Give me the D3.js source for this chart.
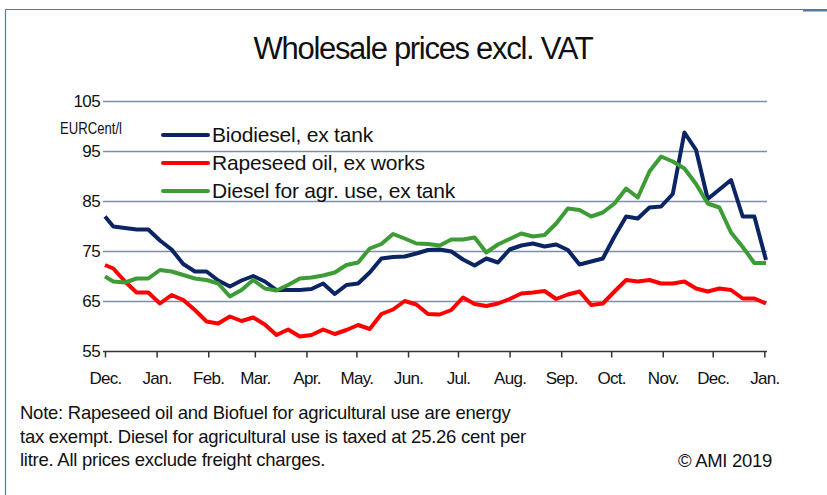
<!DOCTYPE html>
<html>
<head>
<meta charset="utf-8">
<script src="https://cdn.jsdelivr.net/npm/d3@7"></script>
<style>
  body { margin: 0; background: #fff; }
  svg { font-family: "Liberation Sans", Arial, sans-serif; }
</style>
</head>
<body>
<div class="chart"></div>
<script>
var svgWidth = 827;
var svgHeight = 495;

// weekly quotes: first one on 1 Dec 2017, then Wednesdays up to 2 Jan 2019
var dates = [new Date(2017, 11, 1)].concat(
  d3.timeWednesday.range(new Date(2017, 11, 6), new Date(2019, 0, 3)));

var biodiesel = [82, 80, 79.7, 79.4, 79.4, 77.2, 75.4, 72.5, 71, 71,
  69.2, 68, 69.2, 70.1, 69, 67.3, 67.3, 67.3, 67.5, 68.6,
  66.5, 68.3, 68.6, 70.8, 73.6, 73.9, 74, 74.6, 75.3, 75.4,
  75, 73.4, 72.2, 73.6, 72.8, 75.4, 76.2, 76.6, 76, 76.4,
  75.3, 72.4, 73, 73.6, 78, 82, 81.6, 83.8, 84, 86.5,
  98.8, 95.3, 85.5, 87.4, 89.3, 82, 82, 73.3];

var rapeseed = [72.3, 71.6, 69, 66.8, 66.8, 64.6, 66.3, 65.3, 63.3, 61,
  60.6, 62, 61.1, 61.8, 60.4, 58.3, 59.4, 58, 58.3, 59.4,
  58.5, 59.3, 60.3, 59.5, 62.5, 63.4, 65.1, 64.4, 62.5, 62.4,
  63.3, 65.8, 64.5, 64.1, 64.6, 65.5, 66.6, 66.8, 67.1, 65.5,
  66.4, 67, 64.3, 64.6, 67, 69.3, 69, 69.3, 68.6, 68.6,
  69, 67.6, 67, 67.6, 67.3, 65.6, 65.6, 64.6];

var dieselAgr = [70, 69, 68.8, 69.6, 69.6, 71.3, 71, 70.3, 69.6, 69.3,
  68.6, 66, 67.3, 69.3, 67.6, 67.2, 68.3, 69.6, 69.8, 70.2,
  70.8, 72.3, 72.8, 75.6, 76.5, 78.5, 77.6, 76.6, 76.5, 76.2,
  77.4, 77.4, 77.8, 74.8, 76.4, 77.5, 78.6, 78, 78.3, 80.6,
  83.6, 83.3, 82, 82.8, 84.6, 87.6, 85.8, 91, 94, 93,
  91.6, 88.5, 84.6, 83.8, 78.8, 75.9, 72.7, 72.7];

var seriesNames = ["Biodiesel, ex tank", "Rapeseed oil, ex works", "Diesel for agr. use, ex tank"];
var seriesColors = ["#0b2463", "#ff0000", "#3d9c35"];
var monthLabels = ["Dec.", "Jan.", "Feb.", "Mar.", "Apr.", "May.", "Jun.", "Jul.",
  "Aug.", "Sep.", "Oct.", "Nov.", "Dec.", "Jan."];
var yTicks = [55, 65, 75, 85, 95, 105];
var noteLines = [
  "Note: Rapeseed oil and Biofuel for agricultural use are energy",
  "tax exempt. Diesel for agricultural use is taxed at 25.26 cent per",
  "litre. All prices exclude freight charges."
];

var svg = d3.select(".chart")
  .append("svg")
  .attr("width", svgWidth)
  .attr("height", svgHeight);

// frame lines
svg.append("line")
  .attr("x1", 5.5).attr("x2", 827).attr("y1", 9.5).attr("y2", 9.5)
  .attr("stroke", "#5b7896").attr("stroke-width", 1.2);
svg.append("line")
  .attr("x1", 803).attr("x2", 827).attr("y1", 10.5).attr("y2", 10.5)
  .attr("stroke", "#5b7896").attr("stroke-width", 2);
svg.append("line")
  .attr("x1", 5.5).attr("x2", 5.5).attr("y1", 9.5).attr("y2", 495)
  .attr("stroke", "#5b7896").attr("stroke-width", 1.2);

// title
svg.append("text")
  .attr("x", 423)
  .attr("y", 59)
  .attr("text-anchor", "middle")
  .attr("font-size", "31px")
  .attr("letter-spacing", "-1.3px")
  .attr("fill", "#111")
  .text("Wholesale prices excl. VAT");

var x = d3.scaleTime()
  .domain([dates[0], dates[dates.length - 1]])
  .range([105, 766]);

var y = d3.scaleLinear()
  .domain([55, 105])
  .range([351.5, 101.5]);

// gridlines
svg.append("g")
  .selectAll("line")
  .data(yTicks.slice(1))
  .enter()
  .append("line")
  .attr("x1", 103)
  .attr("x2", 767)
  .attr("y1", d => y(d))
  .attr("y2", d => y(d))
  .attr("stroke", "#7c8ea8")
  .attr("stroke-width", 1.5);

// y tick labels
svg.append("g")
  .selectAll("text")
  .data(yTicks)
  .enter()
  .append("text")
  .attr("x", 100)
  .attr("y", d => y(d))
  .attr("dy", "0.35em")
  .attr("text-anchor", "end")
  .attr("font-size", "17px")
  .attr("letter-spacing", "-0.6px")
  .attr("fill", "#111")
  .text(d => d);

svg.append("text")
  .attr("x", 60)
  .attr("y", 134)
  .attr("font-size", "17px")
  .attr("textLength", 62)
  .attr("lengthAdjust", "spacingAndGlyphs")
  .attr("fill", "#111")
  .text("EURCent/l");

// x axis
var monthTicks = d3.timeMonth.range(new Date(2017, 11, 1), new Date(2019, 0, 2));
var bottomAxis = d3.axisBottom(x)
  .tickValues(monthTicks)
  .tickSize(6)
  .tickFormat((d, i) => monthLabels[i]);

var xAxis = svg.append("g")
  .attr("transform", "translate(0, 351.5)")
  .call(bottomAxis);
xAxis.select(".domain")
  .attr("d", "M103,0H767")
  .attr("stroke", "#333")
  .attr("stroke-width", 1.5);
xAxis.selectAll(".tick line").attr("stroke", "#333").attr("stroke-width", 1.5);
xAxis.selectAll(".tick text")
  .attr("y", 20)
  .attr("dy", "0.71em")
  .attr("font-family", "Liberation Sans, Arial, sans-serif")
  .attr("font-size", "17px")
  .attr("letter-spacing", "-0.7px")
  .attr("fill", "#111");

// series lines
var allSeries = [biodiesel, rapeseed, dieselAgr];
var line = d3.line()
  .x((d, i) => x(dates[i]))
  .y(d => y(d));

[1, 0, 2].forEach(function(s) {
  svg.append("path")
    .datum(allSeries[s])
    .attr("fill", "none")
    .attr("stroke", seriesColors[s])
    .attr("stroke-width", 4)
    .attr("stroke-linejoin", "round")
    .attr("d", line);
});

// legend
var legend = svg.append("g");
seriesNames.forEach(function(name, i) {
  var ly = 135 + i * 28;
  legend.append("line")
    .attr("x1", 163).attr("x2", 208)
    .attr("y1", ly).attr("y2", ly)
    .attr("stroke", seriesColors[i])
    .attr("stroke-width", 4)
    .attr("stroke-linecap", "round");
  legend.append("text")
    .attr("x", 212)
    .attr("y", ly)
    .attr("dy", "0.35em")
    .attr("font-size", "21px")
    .attr("letter-spacing", "-0.2px")
    .attr("fill", "#111")
    .text(name);
});

// note
svg.append("g")
  .selectAll("text")
  .data(noteLines)
  .enter()
  .append("text")
  .attr("x", 20)
  .attr("y", (d, i) => 419 + i * 23.5)
  .attr("font-size", "18.5px")
  .attr("letter-spacing", "-0.25px")
  .attr("fill", "#111")
  .text(d => d);

svg.append("text")
  .attr("x", 772)
  .attr("y", 467)
  .attr("text-anchor", "end")
  .attr("font-size", "18.5px")
  .attr("letter-spacing", "-0.3px")
  .attr("fill", "#111")
  .text("© AMI 2019");
</script>
</body>
</html>
